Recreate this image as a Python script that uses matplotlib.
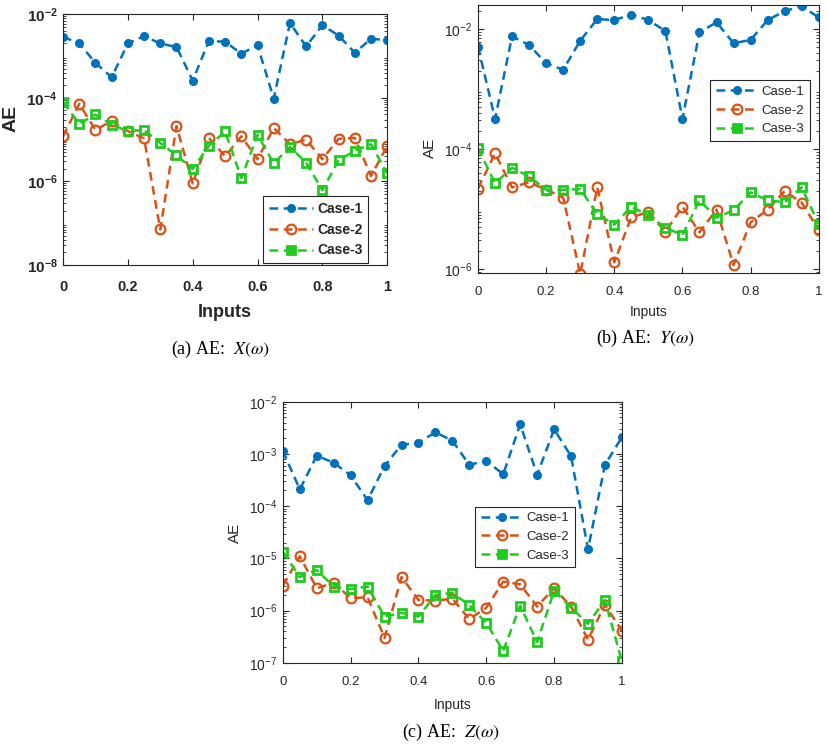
import matplotlib
matplotlib.use("Agg")
import matplotlib.pyplot as plt

# inputs 0, 0.05, ..., 1 (21 points)
inputs = [0, 0.05, 0.1, 0.15, 0.2, 0.25, 0.3, 0.35, 0.4, 0.45, 0.5,
          0.55, 0.6, 0.65, 0.7, 0.75, 0.8, 0.85, 0.9, 0.95, 1.0]

# (a) AE: X(w)
x_case1 = [2.9e-3, 2.0e-3, 6.9e-4, 3.1e-4, 2.0e-3, 3.0e-3, 2.0e-3, 1.65e-3, 2.6e-4, 2.3e-3, 2.2e-3,
           1.15e-3, 1.8e-3, 9.6e-5, 6.2e-3, 1.7e-3, 5.5e-3, 3.1e-3, 1.2e-3, 2.6e-3, 2.4e-3]
x_case2 = [1.2e-5, 7.2e-5, 1.7e-5, 2.8e-5, 1.6e-5, 1.07e-5, 7.1e-8, 2.1e-5, 9.0e-7, 1.1e-5, 4.0e-6,
           1.2e-5, 3.4e-6, 1.9e-5, 7.8e-6, 1.0e-5, 3.4e-6, 1.05e-5, 1.1e-5, 1.35e-6, 7.1e-6]
x_case3 = [7.9e-5, 2.4e-5, 4.0e-5, 2.3e-5, 1.6e-5, 1.7e-5, 8.3e-6, 4.2e-6, 2.0e-6, 7.1e-6, 1.57e-5,
           1.2e-6, 1.3e-5, 2.7e-6, 6.7e-6, 2.8e-6, 6.2e-7, 3.2e-6, 5.4e-6, 7.8e-6, 1.55e-6]

# (b) AE: Y(w)
y_case1 = [5.1e-3, 3.2e-4, 7.6e-3, 5.4e-3, 2.7e-3, 2.1e-3, 6.4e-3, 1.47e-2, 1.41e-2, 1.75e-2, 1.41e-2,
           9.3e-3, 3.2e-4, 8.8e-3, 1.3e-2, 5.8e-3, 6.6e-3, 1.41e-2, 2.0e-2, 2.4e-2, 1.56e-2]
y_case2 = [2.2e-5, 8.5e-5, 2.3e-5, 2.8e-5, 2.1e-5, 1.55e-5, 8.3e-7, 2.3e-5, 1.3e-6, 7.4e-6, 8.8e-6,
           4.2e-6, 1.1e-5, 4.1e-6, 9.8e-6, 1.17e-6, 6.0e-6, 9.8e-6, 2.0e-5, 1.28e-5, 4.5e-6]
y_case3 = [1.03e-4, 2.7e-5, 4.9e-5, 3.5e-5, 2.1e-5, 2.1e-5, 2.15e-5, 8.3e-6, 5.5e-6, 1.1e-5, 7.9e-6,
           4.9e-6, 3.7e-6, 1.4e-5, 7.2e-6, 9.6e-6, 1.9e-5, 1.4e-5, 1.3e-5, 2.3e-5, 5.6e-6]

# (c) AE: Z(w)
z_case1 = [1.15e-3, 2.1e-4, 9.3e-4, 6.8e-4, 3.9e-4, 1.3e-4, 5.9e-4, 1.5e-3, 1.65e-3, 2.6e-3, 1.8e-3,
           6.2e-4, 7.4e-4, 4.1e-4, 3.7e-3, 4.0e-4, 2.96e-3, 9.1e-4, 1.5e-5, 6.2e-4, 2.1e-3]
z_case2 = [3.0e-6, 1.1e-5, 2.7e-6, 3.4e-6, 1.74e-6, 1.8e-6, 3.0e-7, 4.4e-6, 1.6e-6, 1.56e-6, 1.7e-6,
           6.9e-7, 1.14e-6, 3.6e-6, 3.2e-6, 1.2e-6, 2.7e-6, 1.2e-6, 2.8e-7, 1.3e-6, 4.1e-7]
z_case3 = [1.35e-5, 4.4e-6, 6.0e-6, 2.9e-6, 2.6e-6, 2.9e-6, 7.7e-7, 9.1e-7, 7.7e-7, 2.0e-6, 2.2e-6,
           1.27e-6, 5.8e-7, 1.7e-7, 1.25e-6, 2.5e-7, 2.4e-6, 1.15e-6, 5.6e-7, 1.6e-6, 1.07e-7]

case_names = ["Case-1", "Case-2", "Case-3"]
x_ticks = [0, 0.2, 0.4, 0.6, 0.8, 1]
x_ticklabels = ["0", "0.2", "0.4", "0.6", "0.8", "1"]

BLUE = "#0072BD"
ORANGE = "#D95319"
GREEN = "#1ECC1E"
TXT = "#262626"

plt.rcParams["font.family"] = ["Liberation Sans", "DejaVu Sans"]
plt.rcParams["mathtext.fontset"] = "custom"
plt.rcParams["mathtext.rm"] = "Liberation Sans"
plt.rcParams["mathtext.bf"] = "Liberation Sans:bold"
plt.rcParams["mathtext.it"] = "Liberation Sans:italic"


def draw(ax, series, bold, fs, pad):
    styles = [
        dict(color=BLUE, marker="o", ms=5.5, mfc=BLUE, mec=BLUE),
        dict(color=ORANGE, marker="o", ms=7, mfc="none", mec=ORANGE, mew=1.6),
        dict(color=GREEN, marker="s", ms=5.5, mfc="none", mec=GREEN, mew=2.0),
    ]
    for vals, name, st in zip(series, case_names, styles):
        ax.plot(inputs, vals, ls="--", lw=1.8, dashes=(3.5, 2.2), label=name, **st)
    ax.set_yscale("log")
    ax.set_xlim(0, 1)
    ax.set_xticks(x_ticks)
    ax.set_xticklabels(x_ticklabels)
    ax.tick_params(which="both", direction="in", top=True, right=True,
                   labelsize=fs, colors=TXT)
    ax.tick_params(axis="x", pad=pad)
    ax.tick_params(axis="y", pad=4)
    ax.tick_params(which="major", length=4)
    ax.tick_params(which="minor", length=2)
    if bold:
        for lab in ax.get_xticklabels():
            lab.set_fontweight("bold")
    for sp in ax.spines.values():
        sp.set_color(TXT)
        sp.set_linewidth(0.8)


def ylog_labels(ax, exps, bold, fs):
    ax.set_yticks([10.0 ** e for e in exps])
    if bold:
        labs = [r"$\mathbf{10^{%d}}$" % e for e in exps]
    else:
        labs = [r"$\mathregular{10^{%d}}$" % e for e in exps]
    ax.set_yticklabels(labs, fontsize=fs, color=TXT)


def add_legend(ax, loc, anchor, prop):
    leg = ax.legend(loc=loc, bbox_to_anchor=anchor, fancybox=False, edgecolor=TXT,
                    prop=prop, handlelength=3.2, borderpad=0.4, labelspacing=0.5,
                    handletextpad=0.3, borderaxespad=0, framealpha=1)
    leg.get_frame().set_linewidth(0.8)
    leg.legend_handles[2].set_markerfacecolor(GREEN)   # legend shows a filled square
    for t in leg.get_texts():
        t.set_color(TXT)


fig = plt.figure(figsize=(8.27, 7.44), dpi=100)

# (a)
ax1 = fig.add_axes([0.0762, 0.6438, 0.392, 0.337])
draw(ax1, [x_case1, x_case2, x_case3], True, 10.5, 11)
ax1.set_ylim(1e-8, 1e-2)
ylog_labels(ax1, [-2, -4, -6, -8], True, 11)
ax1.set_ylabel("AE", fontsize=14, fontweight="bold", color=TXT)
ax1.yaxis.set_label_coords(-0.133, 0.585)
ax1.set_xlabel("Inputs", fontsize=13, fontweight="bold", color=TXT, labelpad=7)
add_legend(ax1, "lower right", (0.941, 0.008), dict(weight="bold", size=10))

# (b)
ax2 = fig.add_axes([0.578, 0.633, 0.412, 0.360])
draw(ax2, [y_case1, y_case2, y_case3], False, 9.5, 9.5)
ax2.set_ylim(8.6e-7, 2.5e-2)
ylog_labels(ax2, [-2, -4, -6], False, 10)
ax2.set_ylabel("AE", fontsize=11, color=TXT)
ax2.yaxis.set_label_coords(-0.12, 0.466)
ax2.set_xlabel("Inputs", fontsize=10, color=TXT, labelpad=5)
add_legend(ax2, "upper right", (0.974, 0.72), dict(size=9.5))

# (c)
ax3 = fig.add_axes([0.342, 0.109, 0.41, 0.351])
draw(ax3, [z_case1, z_case2, z_case3], False, 9.5, 9.5)
ax3.set_ylim(1e-7, 1e-2)
ylog_labels(ax3, [-2, -3, -4, -5, -6, -7], False, 10)
ax3.set_ylabel("AE", fontsize=11, color=TXT)
ax3.yaxis.set_label_coords(-0.121, 0.498)
ax3.set_xlabel("Inputs", fontsize=10, color=TXT, labelpad=7)
add_legend(ax3, "upper right", (0.861, 0.598), dict(size=9.5))

# captions (Times-like, italic math symbols)
cap = dict(fontsize=13, family=["Liberation Serif", "DejaVu Serif"], ha="center",
           va="center", math_fontfamily="stix")
fig.text(221 / 827, 1 - 349 / 744, r"(a) AE:  $X(\omega)$", **cap)
fig.text(646 / 827, 1 - 338 / 744, r"(b) AE:  $Y(\omega)$", **cap)
fig.text(451 / 827, 1 - 732 / 744, r"(c) AE:  $Z(\omega)$", **cap)

fig.savefig("out.png", dpi=100)
